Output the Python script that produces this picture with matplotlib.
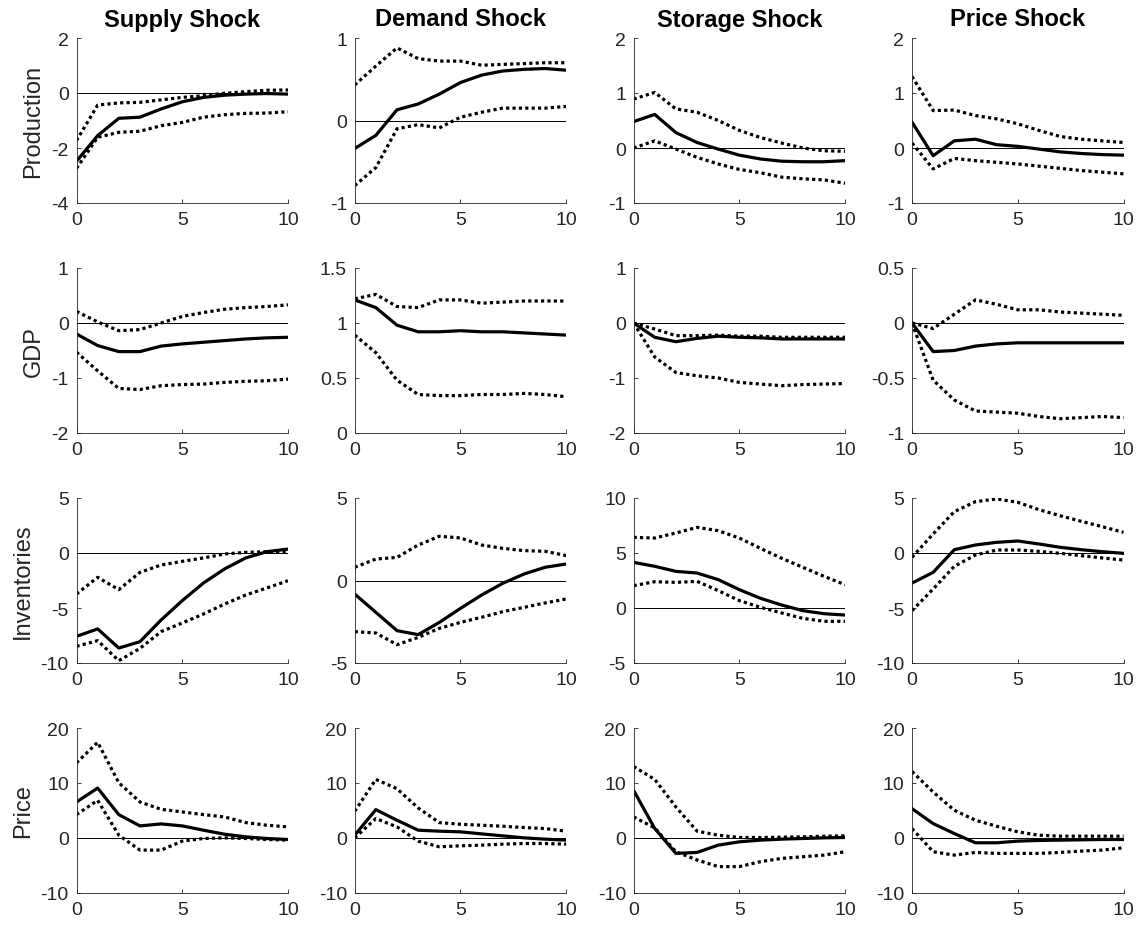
import matplotlib
matplotlib.use("Agg")
import matplotlib.pyplot as plt
from matplotlib.ticker import FormatStrFormatter

plt.rcParams['font.family'] = ['Liberation Sans', 'DejaVu Sans']
plt.rcParams['axes.unicode_minus'] = False

# horizons and panel labels
horizon = list(range(11))
shocks = ['Supply Shock', 'Demand Shock', 'Storage Shock', 'Price Shock']
variables = ['Production', 'GDP', 'Inventories', 'Price']

# impulse responses: one list per shock (supply, demand, storage, price)
production_mid = [
    [-2.48, -1.55, -0.92, -0.88, -0.58, -0.32, -0.16, -0.08, -0.04, -0.02, -0.04],
    [-0.34, -0.18, 0.13, 0.20, 0.32, 0.46, 0.55, 0.60, 0.62, 0.63, 0.61],
    [0.48, 0.61, 0.28, 0.10, -0.02, -0.13, -0.20, -0.24, -0.25, -0.25, -0.23],
    [0.47, -0.14, 0.13, 0.16, 0.06, 0.03, -0.02, -0.07, -0.10, -0.12, -0.13],
]
production_hi = [
    [-1.73, -0.44, -0.36, -0.34, -0.25, -0.16, -0.10, -0.01, 0.05, 0.10, 0.11],
    [0.43, 0.66, 0.88, 0.75, 0.72, 0.72, 0.67, 0.68, 0.69, 0.70, 0.70],
    [0.89, 1.01, 0.71, 0.65, 0.50, 0.32, 0.19, 0.09, 0.00, -0.05, -0.06],
    [1.30, 0.68, 0.69, 0.59, 0.53, 0.44, 0.32, 0.21, 0.16, 0.13, 0.10],
]
production_lo = [
    [-2.74, -1.61, -1.43, -1.39, -1.19, -1.07, -0.88, -0.79, -0.74, -0.73, -0.68],
    [-0.79, -0.57, -0.10, -0.05, -0.09, 0.04, 0.10, 0.15, 0.15, 0.15, 0.17],
    [0.00, 0.13, -0.02, -0.17, -0.29, -0.39, -0.45, -0.53, -0.56, -0.58, -0.64],
    [0.09, -0.38, -0.19, -0.23, -0.26, -0.29, -0.33, -0.37, -0.41, -0.44, -0.47],
]

gdp_mid = [
    [-0.20, -0.41, -0.52, -0.52, -0.42, -0.38, -0.35, -0.32, -0.29, -0.27, -0.26],
    [1.21, 1.14, 0.98, 0.92, 0.92, 0.93, 0.92, 0.92, 0.91, 0.90, 0.89],
    [0.00, -0.26, -0.34, -0.28, -0.24, -0.26, -0.27, -0.29, -0.29, -0.29, -0.29],
    [0.00, -0.26, -0.25, -0.21, -0.19, -0.18, -0.18, -0.18, -0.18, -0.18, -0.18],
]
gdp_hi = [
    [0.21, 0.02, -0.14, -0.12, 0.00, 0.12, 0.19, 0.25, 0.28, 0.30, 0.33],
    [1.22, 1.26, 1.15, 1.14, 1.21, 1.21, 1.18, 1.19, 1.20, 1.20, 1.20],
    [0.00, -0.11, -0.23, -0.23, -0.22, -0.24, -0.24, -0.26, -0.26, -0.26, -0.26],
    [0.00, -0.05, 0.08, 0.21, 0.17, 0.12, 0.12, 0.10, 0.09, 0.08, 0.07],
]
gdp_lo = [
    [-0.53, -0.87, -1.19, -1.21, -1.14, -1.12, -1.11, -1.08, -1.06, -1.05, -1.02],
    [0.89, 0.73, 0.48, 0.35, 0.34, 0.34, 0.35, 0.35, 0.36, 0.35, 0.33],
    [0.00, -0.62, -0.90, -0.96, -1.00, -1.08, -1.11, -1.14, -1.12, -1.11, -1.10],
    [0.00, -0.52, -0.70, -0.80, -0.81, -0.82, -0.85, -0.87, -0.86, -0.85, -0.86],
]

inventories_mid = [
    [-7.58, -6.90, -8.64, -8.06, -6.09, -4.33, -2.73, -1.45, -0.45, 0.12, 0.36],
    [-0.82, -1.93, -3.04, -3.28, -2.54, -1.69, -0.88, -0.17, 0.39, 0.80, 1.00],
    [4.15, 3.79, 3.33, 3.18, 2.58, 1.67, 0.88, 0.27, -0.24, -0.52, -0.64],
    [-2.73, -1.76, 0.30, 0.73, 0.97, 1.09, 0.82, 0.52, 0.30, 0.12, -0.03],
]
inventories_hi = [
    [-3.73, -2.21, -3.33, -1.76, -1.09, -0.76, -0.45, -0.09, 0.06, 0.12, 0.12],
    [0.80, 1.30, 1.40, 2.15, 2.68, 2.58, 2.15, 1.95, 1.81, 1.77, 1.51],
    [6.42, 6.36, 6.82, 7.33, 7.03, 6.36, 5.42, 4.52, 3.70, 2.88, 2.12],
    [-0.39, 1.73, 3.76, 4.67, 4.91, 4.61, 3.94, 3.39, 2.88, 2.39, 1.88],
]
inventories_lo = [
    [-8.48, -7.97, -9.79, -8.67, -7.15, -6.36, -5.55, -4.64, -3.82, -3.18, -2.52],
    [-3.10, -3.18, -3.89, -3.45, -2.90, -2.54, -2.23, -1.89, -1.63, -1.36, -1.12],
    [2.03, 2.39, 2.33, 2.42, 1.58, 0.67, 0.06, -0.45, -0.94, -1.21, -1.21],
    [-5.24, -3.27, -1.21, -0.18, 0.27, 0.27, 0.15, -0.03, -0.24, -0.45, -0.64],
]

price_mid = [
    [6.55, 9.08, 4.25, 2.20, 2.56, 2.20, 1.42, 0.69, 0.21, -0.09, -0.27],
    [0.51, 5.16, 3.23, 1.42, 1.24, 1.12, 0.75, 0.39, 0.03, -0.21, -0.39],
    [8.66, 1.72, -2.80, -2.62, -1.30, -0.69, -0.39, -0.21, -0.09, 0.03, 0.09],
    [5.34, 2.62, 0.81, -0.87, -0.87, -0.57, -0.45, -0.39, -0.33, -0.27, -0.27],
]
price_hi = [
    [13.67, 17.40, 10.05, 6.55, 5.22, 4.74, 4.25, 3.83, 2.80, 2.32, 2.02],
    [4.86, 10.65, 8.96, 5.46, 2.80, 2.50, 2.32, 2.14, 1.90, 1.72, 1.24],
    [13.00, 10.65, 5.64, 1.24, 0.51, 0.09, 0.09, 0.15, 0.21, 0.33, 0.39],
    [12.10, 8.36, 5.04, 3.23, 2.14, 1.12, 0.51, 0.33, 0.33, 0.33, 0.33],
]
price_lo = [
    [4.25, 6.85, 0.51, -2.20, -2.20, -0.57, -0.09, 0.03, -0.09, -0.27, -0.39],
    [0.03, 3.53, 2.02, -0.57, -1.60, -1.42, -1.30, -1.12, -1.00, -1.00, -1.12],
    [3.83, 1.84, -2.50, -4.00, -5.20, -5.20, -4.30, -3.71, -3.41, -3.11, -2.50],
    [1.72, -2.50, -3.11, -2.62, -2.80, -2.80, -2.80, -2.62, -2.38, -2.20, -1.78],
]

# y tick labels per panel
production_yticks = [[-4, -2, 0, 2], [-1, 0, 1], [-1, 0, 1, 2], [-1, 0, 1, 2]]
gdp_yticks = [[-2, -1, 0, 1], [0, 0.5, 1, 1.5], [-2, -1, 0, 1], [-1, -0.5, 0, 0.5]]
inventories_yticks = [[-10, -5, 0, 5], [-5, 0, 5], [-5, 0, 5, 10], [-10, -5, 0, 5]]
price_yticks = [[-10, 0, 10, 20], [-10, 0, 10, 20], [-10, 0, 10, 20], [-10, 0, 10, 20]]
xticks = [0, 5, 10]

rows = [
    (production_mid, production_hi, production_lo, production_yticks),
    (gdp_mid, gdp_hi, gdp_lo, gdp_yticks),
    (inventories_mid, inventories_hi, inventories_lo, inventories_yticks),
    (price_mid, price_hi, price_lo, price_yticks),
]

W, H = 1142, 928
fig = plt.figure(figsize=(W / 100, H / 100), dpi=100)

col_left = [76.5, 354.7, 633.6, 912]
row_top = [39, 269, 499, 729]
ax_w, ax_h = 211.5, 165
axis_col = '#262626'

for i, (mid, hi, lo, yt) in enumerate(rows):
    for j in range(4):
        ax = fig.add_axes([col_left[j] / W, (H - row_top[i] - ax_h) / H, ax_w / W, ax_h / H])
        ax.plot([0, 10], [0, 0], color='black', lw=0.7)
        ax.plot(horizon, hi[j], color='black', lw=2.3, linestyle=(0, (1, 1)))
        ax.plot(horizon, lo[j], color='black', lw=2.3, linestyle=(0, (1, 1)))
        ax.plot(horizon, mid[j], color='black', lw=2.3)
        ax.set_xlim(0, 10)
        ax.set_ylim(yt[j][0], yt[j][-1])
        ax.set_xticks(xticks)
        ax.set_yticks(yt[j])
        ax.yaxis.set_major_formatter(FormatStrFormatter('%g'))
        for s in ['top', 'right']:
            ax.spines[s].set_visible(False)
        for s in ['left', 'bottom']:
            ax.spines[s].set_color(axis_col)
            ax.spines[s].set_linewidth(0.6)
        ax.tick_params(direction='in', length=3, width=0.6, colors=axis_col,
                       labelsize=14, labelcolor=axis_col)
        ax.tick_params(axis='y', pad=5.5)
        ax.tick_params(axis='x', pad=6)
        if i == 0:
            ax.set_title(shocks[j], fontsize=17, fontweight='bold', pad=9)
        if j == 0:
            ax.set_ylabel(variables[i], fontsize=17, color=axis_col, labelpad=5)

fig.savefig('out.png', dpi=100)
